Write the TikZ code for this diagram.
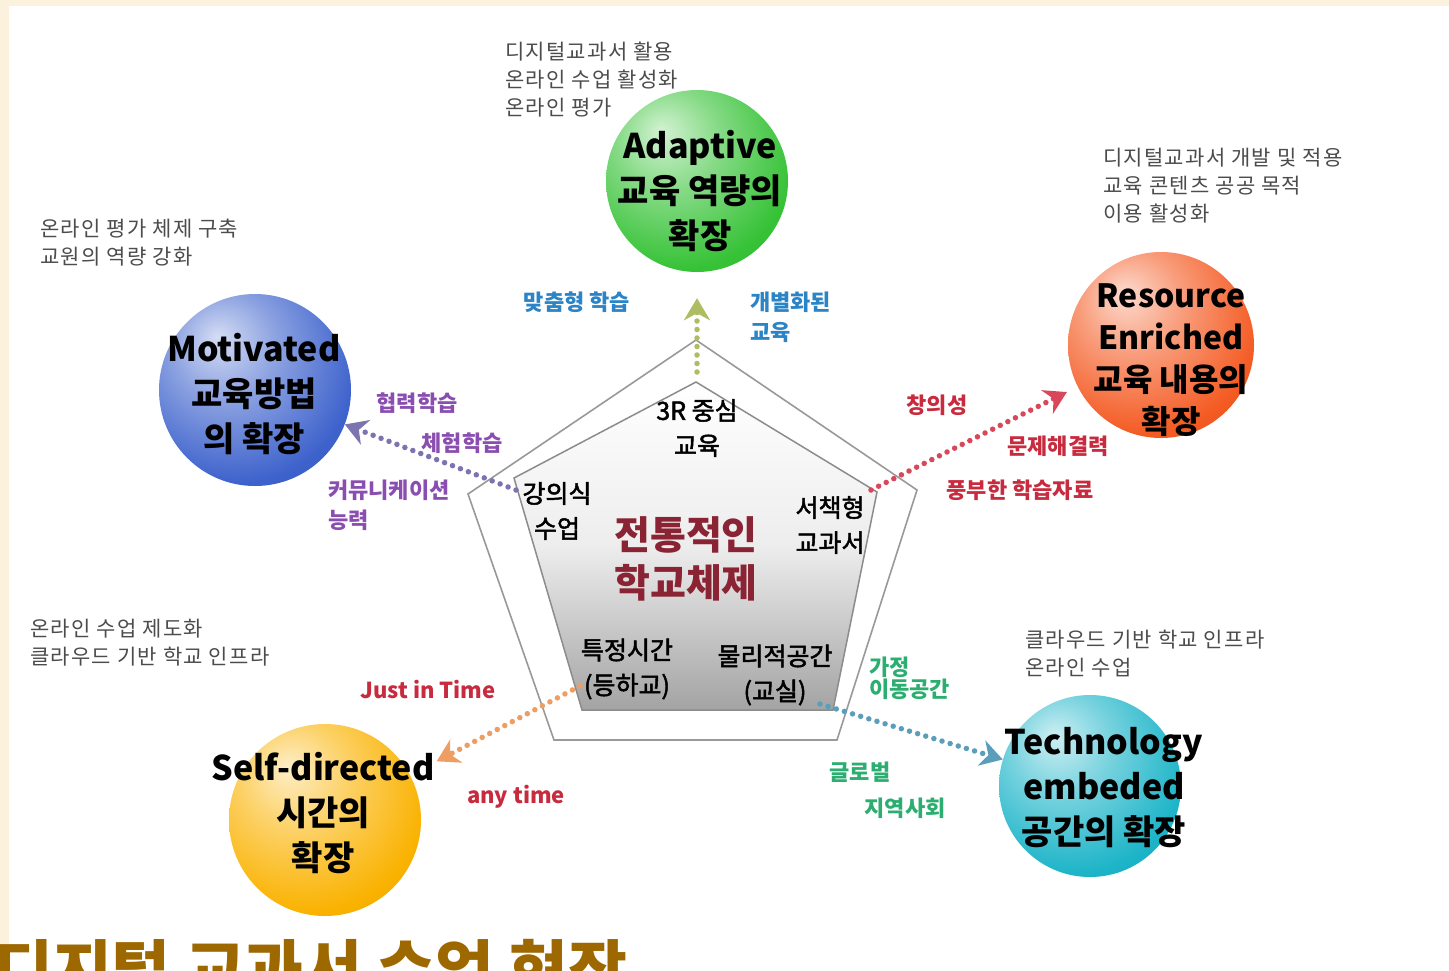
\documentclass[tikz,border=0pt]{standalone}
\usepackage{fontspec}
\setmainfont{Noto Sans CJK KR}
\newfontfamily\krmed{Noto Sans CJK KR}[FakeBold=2]
\usetikzlibrary{arrows.meta,positioning}

\definecolor{cGreen}{HTML}{36C236}
\definecolor{cBlue}{HTML}{3D62CC}
\definecolor{cRed}{HTML}{F45A22}
\definecolor{cYellow}{HTML}{FAB200}
\definecolor{cTeal}{HTML}{1CB4C8}
\definecolor{cream}{HTML}{FBF1DC}
\definecolor{lblBlue}{HTML}{2A84C6}
\definecolor{lblPurple}{HTML}{8A4EB0}
\definecolor{lblRed}{HTML}{C82A3E}
\definecolor{lblGreen}{HTML}{2BAE70}
\definecolor{darkRed}{HTML}{8A2434}
\definecolor{titleBrown}{HTML}{9E6800}
\definecolor{dotGreen}{HTML}{AEBC62}
\definecolor{dotPurple}{HTML}{7C74B0}
\definecolor{dotRed}{HTML}{D8485A}
\definecolor{dotOrange}{HTML}{EE9E62}
\definecolor{dotTeal}{HTML}{5A9EBC}

\colorlet{ballc}{cGreen}
\pgfdeclareradialshading[ballc]{glossy}{\pgfpoint{-10bp}{14bp}}{%
  color(0bp)=(ballc!22!white); color(14bp)=(ballc!60!white);
  color(32bp)=(ballc); color(56bp)=(ballc!82!black); color(70bp)=(ballc!75!black)}

\begin{document}
\begin{tikzpicture}[
  x=1pt,y=-1pt,
  ball/.style={circle,minimum size=#1,inner sep=0pt},
  gloss/.style={/utils/exec={\colorlet{ballc}{#1}},shading=glossy},
  btxt/.style={inner sep=0pt,align=center,font=\fontsize{34}{45}\selectfont\bfseries},
  note/.style={inner sep=0pt,align=left,anchor=west,text=black!70,
    font=\fontsize{21}{28}\selectfont\addfontfeature{LetterSpace=6}},
  lbl/.style={inner sep=0pt,align=left,font=\fontsize{22}{30}\selectfont\bfseries},
  intxt/.style={inner sep=0pt,align=center,font=\fontsize{25}{35}\selectfont\krmed},
  dots/.style={line width=5.5pt,dash pattern=on 0pt off 8.5pt,line cap=round,
    -{Stealth[length=22pt,width=26pt,inset=7pt]}},
]
\useasboundingbox (0,0) rectangle (1449,970);
\clip (0,0) rectangle (1449,970);
\fill[cream] (0,0) rectangle (1449,970);
\fill[white] (9,6) rectangle (1449,970);

% pentagon
\coordinate (o1) at (696,340);
\coordinate (o2) at (468,494);
\coordinate (o3) at (554,740);
\coordinate (o4) at (837,740);
\coordinate (o5) at (917,490);
\draw[black!40,line width=1.6pt] (o1)--(o2)--(o3)--(o4)--(o5)--cycle;
\coordinate (i1) at (696,382);
\coordinate (i2) at (514,478);
\coordinate (i3) at (582,710);
\coordinate (i4) at (833,710);
\coordinate (i5) at (877,492);
\shade[top color=white,bottom color=black!36,middle color=black!7,draw=black!45,line width=1.5pt]
  (i1)--(i2)--(i3)--(i4)--(i5)--cycle;

% circles
\node[ball=182pt,gloss=cGreen] (adapt) at (697,181) {};
\node[ball=192pt,gloss=cBlue] (motiv) at (255,390) {};
\node[ball=186pt,gloss=cRed] (resrc) at (1161,345) {};
\node[ball=192pt,gloss=cYellow] (selfd) at (325,820) {};
\node[ball=182pt,gloss=cTeal] (techn) at (1090,786) {};

\node[btxt] at (700,191) {Adaptive\\교육 역량의\\확장};
\node[btxt] at (254,394) {Motivated\\교육방법\\의 확장};
\node[btxt,font=\fontsize{32}{42}\selectfont\bfseries] at (1171,360) {Resource\\Enriched\\교육 내용의\\확장};
\node[btxt] at (323,813) {Self-directed\\시간의\\확장};
\node[btxt] at (1104,788) {Technology\\embeded\\공간의 확장};

% arrows
\coordinate (sT) at (697,372);
\coordinate (sL) at (516,490);
\coordinate (sR) at (871,490);
\coordinate (sBL) at (580,686);
\coordinate (sBR) at (820,704);
\draw[dots,color=dotGreen] (sT) -- (adapt) [shorten >=26pt];
\draw[dots,color=dotPurple] (sL) -- (motiv);
\draw[dots,color=dotRed] (sR) -- (resrc) [shorten >=12pt];
\draw[dots,color=dotOrange] (sBL) -- (selfd) [shorten >=30pt];
\draw[dots,color=dotTeal] (sBR) -- (techn);

% labels
\node[lbl,text=lblBlue] (l1) at (577,302) {맞춤형 학습};
\node[lbl,text=lblBlue,anchor=west] (l2) at (750,317) {개별화된\\교육};
\node[lbl,text=lblPurple] (l3) at (417,403) {협력학습};
\node[lbl,text=lblPurple] (l4) at (462,443) {체험학습};
\node[lbl,text=lblPurple,anchor=west] (l5) at (328,505) {커뮤니케이션\\능력};
\node[lbl,text=lblRed] (l6) at (937,405) {창의성};
\node[lbl,text=lblRed] (l7) at (1058,446) {문제해결력};
\node[lbl,text=lblRed] (l8) at (1020,490) {풍부한 학습자료};
\node[lbl,text=lblRed] (l9) at (428,690) {Just in Time};
\node[lbl,text=lblRed] (l10) at (516,797) {any time};
\node[lbl,text=lblGreen,anchor=west,font=\fontsize{22}{22}\selectfont\bfseries] (l11) at (869,678) {가정\\이동공간};
\node[lbl,text=lblGreen] (l12) at (860,772) {글로벌};
\node[lbl,text=lblGreen] (l13) at (905,808) {지역사회};

% inside pentagon
\node[intxt] (p1) at (697,428) {3R 중심\\교육};
\node[intxt] (p2) at (557,511) {강의식\\수업};
\node[intxt] (p3) at (830,525) {서책형\\교과서};
\node[intxt,text=darkRed,font=\fontsize{39}{48}\selectfont\bfseries] (p0) at (686,559) {전통적인\\학교체제};
\node[intxt] (p4) at (627,669) {특정시간\\(등하교)};
\node[intxt] (p5) at (775,675) {물리적공간\\(교실)};

% notes
\node[note] (n1) at (505,80) {디지털교과서 활용\\온라인 수업 활성화\\온라인 평가};
\node[note] (n2) at (1103,186) {디지털교과서 개발 및 적용\\교육 콘텐츠 공공 목적\\이용 활성화};
\node[note] (n3) at (40,243) {온라인 평가 체제 구축\\교원의 역량 강화};
\node[note] (n4) at (30,643) {온라인 수업 제도화\\클라우드 기반 학교 인프라};
\node[note] (n5) at (1025,654) {클라우드 기반 학교 인프라\\온라인 수업};

% title (cut at the bottom edge)
\node[inner sep=0pt,anchor=base west,text=titleBrown,font=\fontsize{64}{70}\selectfont\bfseries] (ttl) at (-6,993) {디지털 교과서 수업 현장};
\end{tikzpicture}
\end{document}
